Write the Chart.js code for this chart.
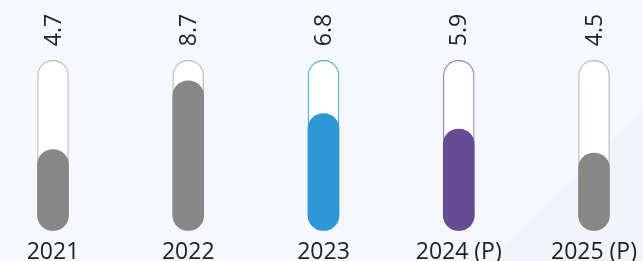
<!DOCTYPE html>
<html>
<head>
<meta charset="utf-8">
<script src="https://cdn.jsdelivr.net/npm/chart.js@4"></script>
<style>
  html, body { margin: 0; padding: 0; background: #f5f8fc; }
  #wrap { width: 643px; height: 261px; position: relative; }
</style>
</head>
<body>
<div id="wrap"><canvas id="chart"></canvas></div>
<script>
const years = ['2021', '2022', '2023', '2024 (P)', '2025 (P)'];
const values = [4.7, 8.7, 6.8, 5.9, 4.5];
const capacity = [9.9, 9.9, 9.9, 9.9, 9.9];
const fillColors = ['#878787', '#878787', '#2e98d5', '#654c93', '#878787'];
const outlineColors = ['#bdbdbd', '#bdbdbd', '#5aaee0', '#9a87c2', '#bdbdbd'];

// soft background with a slightly different wedge bottom right
const bgPlugin = {
    id: 'bg',
    beforeDraw(chart) {
        const ctx = chart.ctx;
        const w = chart.width, h = chart.height;
        ctx.save();
        ctx.fillStyle = '#f5f8fc';
        ctx.fillRect(0, 0, w, h);
        ctx.fillStyle = '#f1f4f9';
        ctx.beginPath();
        ctx.moveTo(490, h);
        ctx.lineTo(w, 110);
        ctx.lineTo(w, h);
        ctx.closePath();
        ctx.fill();
        ctx.restore();
    }
};

// rotated value labels above each tube
const valueLabels = {
    id: 'valueLabels',
    afterDatasetsDraw(chart) {
        const ctx = chart.ctx;
        const tubes = chart.getDatasetMeta(1).data;
        ctx.save();
        ctx.font = '23px "Open Sans"';
        ctx.fillStyle = '#222';
        ctx.textAlign = 'left';
        ctx.textBaseline = 'middle';
        tubes.forEach(function (bar, i) {
            ctx.save();
            ctx.translate(bar.x + 1, bar.y - 14);
            ctx.rotate(-Math.PI / 2);
            ctx.fillText(values[i].toFixed(1), 0, 0);
            ctx.restore();
        });
        ctx.restore();
    }
};

new Chart(document.getElementById('chart'), {
    type: 'bar',
    data: {
        labels: years,
        datasets: [{
            label: 'Value',
            data: values,
            backgroundColor: fillColors,
            borderWidth: 0,
            borderRadius: 40,
            borderSkipped: false,
            barThickness: 31,
            grouped: false,
            clip: false,
            order: 1
        }, {
            label: 'Tube',
            data: capacity,
            backgroundColor: '#ffffff',
            borderColor: outlineColors,
            borderWidth: 1.3,
            borderRadius: 40,
            borderSkipped: false,
            barThickness: 31,
            grouped: false,
            clip: false,
            order: 2
        }]
    },
    options: {
        responsive: true,
        maintainAspectRatio: false,
        animation: false,
        layout: { padding: { left: 53, right: 49, top: 0, bottom: -5 } },
        plugins: {
            legend: { display: false },
            tooltip: { enabled: false }
        },
        scales: {
            x: {
                offset: false,
                grid: { display: false },
                border: { display: false },
                ticks: {
                    color: '#222',
                    padding: 0,
                    font: { family: '"Open Sans"', size: 23 }
                }
            },
            y: {
                display: false,
                min: 0,
                max: 13.4
            }
        }
    },
    plugins: [bgPlugin, valueLabels]
});
</script>
</body>
</html>
